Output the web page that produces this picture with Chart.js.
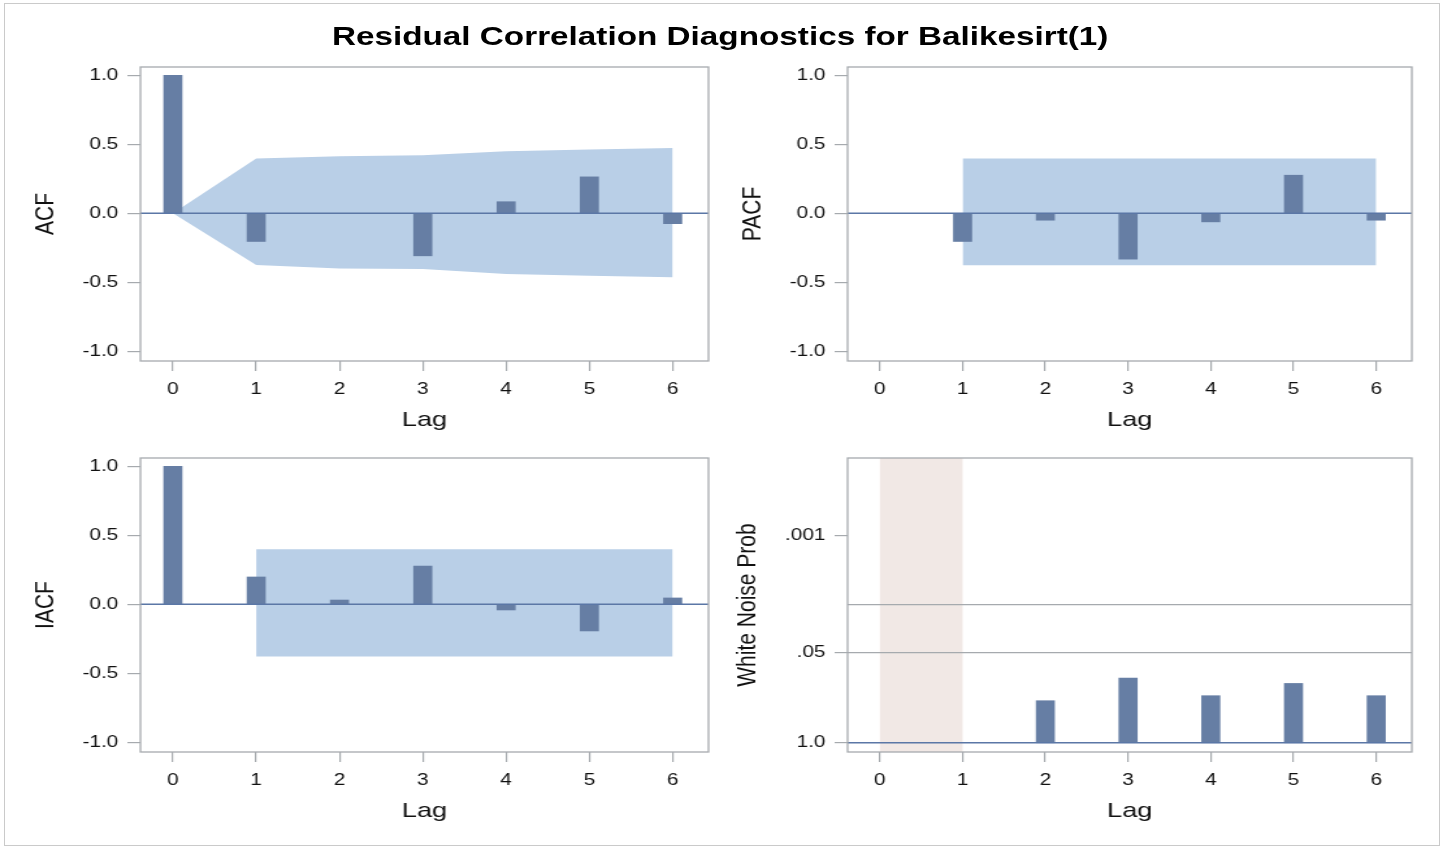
<!DOCTYPE html>
<html>
<head>
<meta charset="utf-8">
<title>Residual Correlation Diagnostics for Balikesirt(1)</title>
<script src="https://cdn.jsdelivr.net/npm/chart.js@4.4.1/dist/chart.umd.min.js"></script>
<style>
  html, body { margin: 0; padding: 0; background: #fff; }
  body { width: 1444px; height: 849px; position: relative; overflow: hidden; }
  #border { position: absolute; left: 4px; top: 3px; width: 1434px; height: 841px; border: 1px solid #cacaca; }
  /* SAS output is stretched sideways, so draw narrow and scale */
  #stage { position: absolute; left: 0; top: 0; width: 1111px; height: 849px; transform: scaleX(1.3); transform-origin: 0 0; }
  #title { position: absolute; left: 0; top: 24px; width: 1108px; text-align: center; font: bold 25.6px "Liberation Sans", Arial, sans-serif; line-height: 25px; color: #000; }
  canvas { position: absolute; }
</style>
</head>
<body>
<div id="border"></div>
<div id="stage">
  <div id="title">Residual Correlation Diagnostics for Balikesirt(1)</div>
  <canvas id="acfChart" width="547" height="383" style="left:8px;top:50px"></canvas>
  <canvas id="pacfChart" width="544" height="383" style="left:552px;top:50px"></canvas>
  <canvas id="iacfChart" width="547" height="383" style="left:8px;top:441px"></canvas>
  <canvas id="wnChart" width="544" height="383" style="left:552px;top:441px"></canvas>
</div>
<script>
// Data
const lags = [0, 1, 2, 3, 4, 5, 6];
const lagTicks = [0, 1, 2, 3, 4, 5, 6];
const corrTicks = [-1.0, -0.5, 0.0, 0.5, 1.0];

const acfValues = [1.0, -0.204, 0.0, -0.308, 0.084, 0.264, -0.075];
const acfUpper = [0, 0.397, 0.413, 0.421, 0.45, 0.462, 0.474];
const acfLower = [0, -0.375, -0.399, -0.404, -0.44, -0.452, -0.464];

const pacfValues = [null, -0.204, -0.05, -0.332, -0.062, 0.276, -0.05];
const pacfUpper = [null, 0.397, 0.397, 0.397, 0.397, 0.397, 0.397];
const pacfLower = [null, -0.376, -0.376, -0.376, -0.376, -0.376, -0.376];

const iacfValues = [1.0, 0.198, 0.031, 0.277, -0.041, -0.193, 0.046];
const iacfUpper = [null, 0.398, 0.398, 0.398, 0.398, 0.398, 0.398];
const iacfLower = [null, -0.378, -0.378, -0.378, -0.378, -0.378, -0.378];

const wnProb = [null, null, 0.247, 0.116, 0.209, 0.139, 0.209];
const wnBase = 1.0;
const wnTicks = [0.001, 0.01, 0.05, 1.0];
const wnTickLabels = ['.001', '', '.05', '1.0'];
const wnRefLines = [0.01, 0.05];
const wnShade = [0, 1];

// Styles
const barColor = '#667ea4';
const bandColor = '#b9cfe7';
const baseColor = '#5b77a6';
const frameGray = '#a6aaae';
const textColor = '#111';
const tickFont = { family: 'Liberation Sans', size: 16 };
const titleFont = { family: 'Liberation Sans', size: 21 };

Chart.defaults.font.family = 'Liberation Sans';

const points = arr => lags.map((l, i) => ({ x: l, y: arr[i] })).filter(p => p.y !== null);

// frame, zero line and shaded lags
const panelDecor = {
  id: 'panelDecor',
  beforeDraw(chart, args, opts) {
    if (!opts.shade) return;
    const { ctx, chartArea: a, scales: { x } } = chart;
    const x0 = x.getPixelForValue(opts.shade[0]);
    const x1 = x.getPixelForValue(opts.shade[1]);
    ctx.save();
    ctx.fillStyle = '#f1e8e5';
    ctx.fillRect(x0, a.top, x1 - x0, a.bottom - a.top);
    ctx.restore();
  },
  afterDatasetsDraw(chart, args, opts) {
    const { ctx, chartArea: a, scales: { y } } = chart;
    const yb = y.getPixelForValue(opts.base);
    ctx.save();
    ctx.strokeStyle = baseColor;
    ctx.lineWidth = 1.5;
    ctx.beginPath();
    ctx.moveTo(a.left, yb);
    ctx.lineTo(a.right, yb);
    ctx.stroke();
    ctx.strokeStyle = frameGray;
    ctx.lineWidth = 1.3;
    ctx.strokeRect(a.left, a.top, a.right - a.left, a.bottom - a.top);
    ctx.restore();
  }
};

function xAxis() {
  return {
    type: 'linear',
    min: -0.39,
    max: 6.43,
    offset: false,
    afterBuildTicks: s => { s.ticks = lagTicks.map(v => ({ value: v })); },
    afterFit: s => { s.height = 72; },
    grid: { offset: false, drawOnChartArea: false, drawTicks: true, tickLength: 10, color: frameGray, lineWidth: 1.2 },
    border: { display: false },
    ticks: { font: tickFont, color: textColor, padding: 9, maxRotation: 0, autoSkip: false },
    title: { display: true, text: 'Lag', font: titleFont, color: textColor, padding: { top: 0, bottom: 0 } }
  };
}

function corrAxis(label) {
  return {
    type: 'linear',
    min: -1.07,
    max: 1.06,
    afterBuildTicks: s => { s.ticks = corrTicks.map(v => ({ value: v })); },
    afterFit: s => { s.width = 100; },
    grid: { drawOnChartArea: false, drawTicks: true, tickLength: 10, color: frameGray, lineWidth: 1.2 },
    border: { display: false },
    ticks: { font: tickFont, color: textColor, padding: 7, callback: v => v.toFixed(1) },
    title: { display: true, text: label, font: titleFont, color: textColor, padding: { top: 15, bottom: 0 } }
  };
}

function corrChart(id, label, values, upper, lower) {
  new Chart(document.getElementById(id), {
    type: 'bar',
    data: {
      datasets: [
        { data: points(values), backgroundColor: barColor, borderWidth: 0, barThickness: 14, order: 1 },
        { type: 'line', data: points(upper), borderColor: 'transparent', borderWidth: 0, pointRadius: 0,
          fill: '+1', backgroundColor: bandColor, tension: 0, order: 2 },
        { type: 'line', data: points(lower), borderColor: 'transparent', borderWidth: 0, pointRadius: 0,
          fill: false, tension: 0, order: 2 }
      ]
    },
    options: {
      responsive: false,
      animation: false,
      events: [],
      layout: { padding: { top: 17, right: 10, left: 0, bottom: 0 } },
      scales: { x: xAxis(), y: corrAxis(label) },
      plugins: { legend: { display: false }, tooltip: { enabled: false }, panelDecor: { base: 0 } }
    },
    plugins: [panelDecor]
  });
}

corrChart('acfChart', 'ACF', acfValues, acfUpper, acfLower);
corrChart('pacfChart', 'PACF', pacfValues, pacfUpper, pacfLower);
corrChart('iacfChart', 'IACF', iacfValues, iacfUpper, iacfLower);

// White noise probabilities (log scale, reversed)
new Chart(document.getElementById('wnChart'), {
  type: 'bar',
  data: {
    datasets: [{
      data: lags.map((l, i) => wnProb[i] === null ? null : { x: l, y: [wnBase, wnProb[i]] }).filter(Boolean),
      backgroundColor: barColor,
      borderWidth: 0,
      barThickness: 14
    }]
  },
  options: {
    responsive: false,
    animation: false,
    events: [],
    layout: { padding: { top: 17, right: 10, left: 0, bottom: 0 } },
    scales: {
      x: xAxis(),
      y: {
        type: 'logarithmic',
        reverse: true,
        min: Math.pow(10, -4.114),
        max: 1.36,
        afterBuildTicks: s => { s.ticks = wnTicks.map(v => ({ value: v })); },
        afterFit: s => { s.width = 100; },
        grid: {
          drawOnChartArea: true,
          drawTicks: true,
          tickLength: 10,
          lineWidth: 1.2,
          color: c => wnRefLines.includes(c.tick.value) ? frameGray : 'transparent',
          tickColor: c => wnTickLabels[wnTicks.indexOf(c.tick.value)] ? frameGray : 'transparent'
        },
        border: { display: false },
        ticks: { font: tickFont, color: textColor, padding: 7, callback: v => wnTickLabels[wnTicks.indexOf(v)] },
        title: { display: true, text: 'White Noise Prob', font: titleFont, color: textColor, padding: { top: 11, bottom: 0 } }
      }
    },
    plugins: { legend: { display: false }, tooltip: { enabled: false }, panelDecor: { base: wnBase, shade: wnShade } }
  },
  plugins: [panelDecor]
});
</script>
</body>
</html>
